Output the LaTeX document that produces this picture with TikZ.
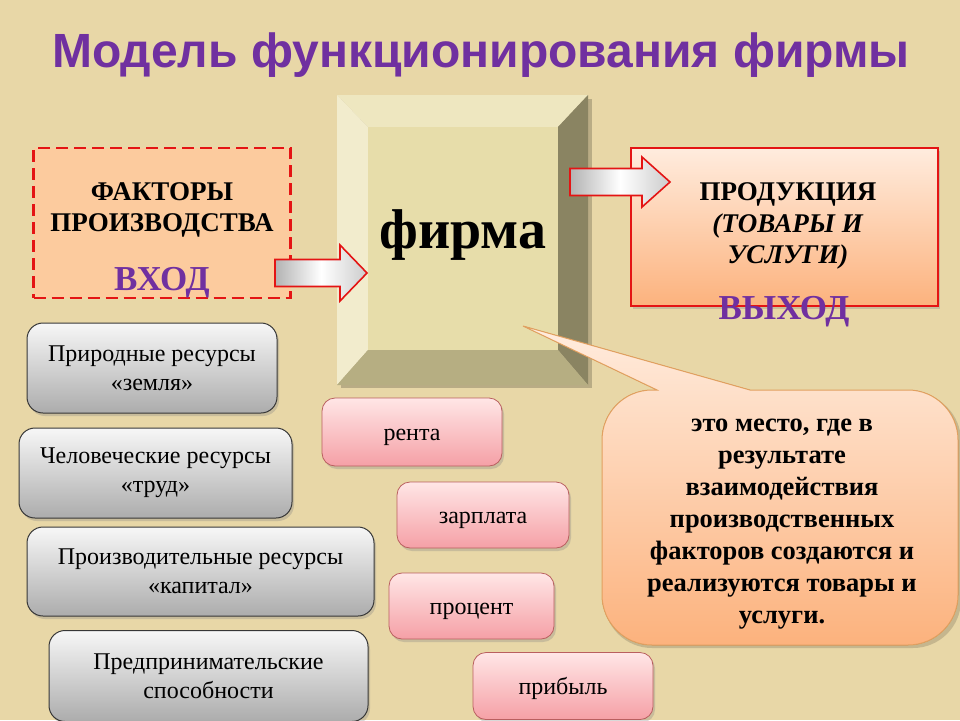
\documentclass[tikz,border=0pt]{standalone}
\usepackage{fontspec}
\setmainfont{Liberation Serif}
\newfontfamily\titlefont{Liberation Sans}
\usetikzlibrary{shadows}
\definecolor{bg}{RGB}{232,215,167}
\definecolor{purp}{RGB}{112,48,160}
\definecolor{peach}{RGB}{252,203,158}
\definecolor{redline}{RGB}{228,20,20}
\definecolor{grayedge}{RGB}{55,55,55}
\definecolor{graytop}{RGB}{247,247,247}
\definecolor{graybot}{RGB}{172,172,172}
\definecolor{pinktop}{RGB}{255,230,230}
\definecolor{pinkbot}{RGB}{245,160,166}
\definecolor{pinkedge}{RGB}{185,95,95}
\definecolor{orangetop}{RGB}{255,236,222}
\definecolor{orangebot}{RGB}{252,178,125}
\definecolor{calloutedge}{RGB}{226,160,95}
\definecolor{bevtop}{RGB}{238,231,192}
\definecolor{bevleft}{RGB}{242,236,205}
\definecolor{bevright}{RGB}{138,132,98}
\definecolor{bevbot}{RGB}{182,174,130}
\definecolor{bevface}{RGB}{231,221,170}
\tikzset{
  softshadow/.style={drop shadow={shadow xshift=2pt,shadow yshift=-3pt,opacity=0.3}},
  graybox/.style={rectangle, rounded corners=16pt, draw=grayedge, line width=1pt,
    top color=graytop, bottom color=graybot, align=center, inner sep=2pt,
    font=\fontsize{24}{29}\selectfont, softshadow},
  pinkbox/.style={rectangle, rounded corners=13pt, draw=pinkedge, line width=0.8pt,
    top color=pinktop, bottom color=pinkbot, align=center, inner sep=2pt,
    text height=17pt, text depth=0pt,
    font=\fontsize{24}{29}\selectfont, softshadow},
  headtext/.style={align=center, font=\bfseries\fontsize{27}{31.5}\selectfont},
  bigword/.style={font=\bfseries\fontsize{35}{37}\selectfont, text=purp},
  blockarrow/.style={draw=redline, line width=1.6pt, left color=gray!60, right color=gray!40, middle color=white}
}
\begin{document}
\begin{tikzpicture}[x=1pt,y=-1pt]
\useasboundingbox (0,0) rectangle (960,720);
\fill[bg] (0,0) rectangle (960,720);

% title
\node[anchor=base, text=purp, font=\titlefont\bfseries\fontsize{48}{52}\selectfont, inner sep=0pt] (title) at (481,67) {Модель функционирования фирмы};

% left dashed box
\node[rectangle, fill=peach, draw=redline, line width=2.6pt, dash pattern=on 12pt off 6pt,
  minimum width=257pt, minimum height=150pt, inner sep=0pt] (factors) at (162,223) {};
\node[headtext] (factorstext) at (162,210) {ФАКТОРЫ\\ПРОИЗВОДСТВА};
\node[bigword] (vhod) at (162,283) {ВХОД};

% firm bevel box
\fill[black, opacity=0.2] (341,99) rectangle (592,388);
\fill[bevtop] (337,95) -- (588,95) -- (558,127) -- (368,127) -- cycle;
\fill[bevleft] (337,95) -- (368,127) -- (368,350) -- (337,385) -- cycle;
\fill[bevright] (588,95) -- (588,385) -- (558,350) -- (558,127) -- cycle;
\fill[bevbot] (337,385) -- (368,350) -- (558,350) -- (588,385) -- cycle;
\node[rectangle, fill=bevface, minimum width=190pt, minimum height=223pt, inner sep=0pt] (firm) at (463,238.5) {};
\node[anchor=base, font=\bfseries\fontsize{56}{58}\selectfont, inner sep=0pt] (firmtext) at (463,248) {фирма};

% right box
\node[rectangle, draw=redline, line width=2.4pt, top color=orangetop, bottom color=orangebot,
  minimum width=307pt, minimum height=158pt, inner sep=0pt, softshadow] (product) at (784.5,227) {};
\node[headtext] (producttext) at (788,226) {ПРОДУКЦИЯ\\\textit{(ТОВАРЫ И}\\\textit{УСЛУГИ)}};
\node[bigword] (vyhod) at (784,312) {ВЫХОД};

% block arrows
\coordinate (a1tail) at (275,273);
\coordinate (a1tip) at (367,273);
\filldraw[blockarrow] (a1tail) ++(0,-13.5) -- (340,259.5) -- (340,245) -- (a1tip) -- (340,301) -- (340,286.5) -- (275,286.5) -- cycle;
\coordinate (a2tail) at (570,182);
\coordinate (a2tip) at (670,182);
\filldraw[blockarrow] (a2tail) ++(0,-13.5) -- (642,168.5) -- (642,157) -- (a2tip) -- (642,207) -- (642,195.5) -- (570,195.5) -- cycle;

% resource boxes
\node[graybox, minimum width=250pt, minimum height=90pt] (land) at (152,368) {Природные ресурсы\\«земля»};
\node[graybox, minimum width=273pt, minimum height=90pt] (labour) at (155.5,473) {Человеческие ресурсы\\«труд»};
\node[graybox, minimum width=347pt, minimum height=89pt] (capital) at (200.5,571.5) {Производительные ресурсы\\«капитал»};
\node[graybox, minimum width=319pt, minimum height=91pt] (entre) at (208.5,676) {Предпринимательские\\способности};

% income boxes
\node[pinkbox, minimum width=180pt, minimum height=68pt] (rent) at (412,432) {рента};
\node[pinkbox, minimum width=172pt, minimum height=66pt] (wage) at (483,515) {зарплата};
\node[pinkbox, minimum width=165pt, minimum height=66pt] (interest) at (471.5,606) {процент};
\node[pinkbox, minimum width=180pt, minimum height=67pt] (profit) at (563,686) {прибыль};

% callout
\coordinate (ctip) at (523,326);
\path[fill=black, opacity=0.15, rounded corners=48pt] (604,393) -- (961,393) -- (961,648) -- (604,648) -- cycle;
\filldraw[draw=calloutedge, line width=1pt, top color=orangetop, bottom color=orangebot]
  (602,520) [rounded corners=50pt] -- (602,390) [sharp corners] -- (657,390) -- (ctip) -- (750,390) [rounded corners=50pt] -- (958,390) -- (958,645) -- (602,645) [sharp corners] -- cycle;
\node[align=center, font=\bfseries\fontsize{26.5}{32}\selectfont] (callouttext) at (782,524) {это место, где в\\результате\\взаимодействия\\производственных\\факторов создаются и\\реализуются товары и\\услуги.};
\end{tikzpicture}
\end{document}
